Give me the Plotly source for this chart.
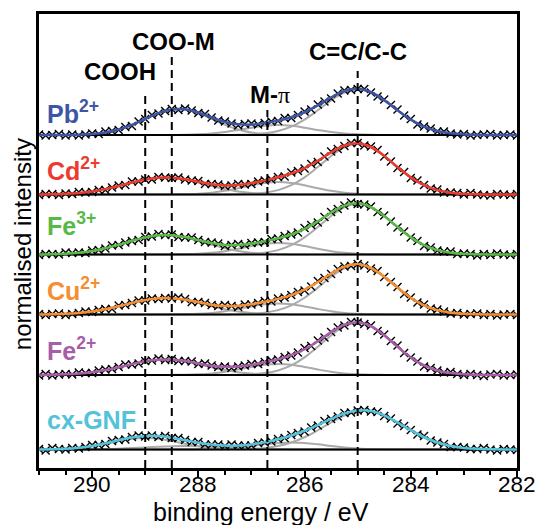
import plotly.graph_objects as go

# ---------------- data (binding energy grid in eV) ----------------
energy_coarse = [291.0, 290.75, 290.5, 290.25, 290.0, 289.75, 289.5, 289.25, 289.0, 288.75,
                 288.5, 288.25, 288.0, 287.75, 287.5, 287.25, 287.0, 286.75, 286.5, 286.25,
                 286.0, 285.75, 285.5, 285.25, 285.0, 284.75, 284.5, 284.25, 284.0, 283.75,
                 283.5, 283.25, 283.0, 282.75, 282.5, 282.25, 282.0]

energy_fine = [291.0, 290.875, 290.75, 290.625, 290.5, 290.375, 290.25, 290.125, 290.0, 289.875,
               289.75, 289.625, 289.5, 289.375, 289.25, 289.125, 289.0, 288.875, 288.75, 288.625,
               288.5, 288.375, 288.25, 288.125, 288.0, 287.875, 287.75, 287.625, 287.5, 287.375,
               287.25, 287.125, 287.0, 286.875, 286.75, 286.625, 286.5, 286.375, 286.25, 286.125,
               286.0, 285.875, 285.75, 285.625, 285.5, 285.375, 285.25, 285.125, 285.0, 284.875,
               284.75, 284.625, 284.5, 284.375, 284.25, 284.125, 284.0, 283.875, 283.75, 283.625,
               283.5, 283.375, 283.25, 283.125, 283.0, 282.875, 282.75, 282.625, 282.5, 282.375,
               282.25, 282.125, 282.0]

# measured points (normalised, above each spectrum's baseline)
measured_pb = [0.01, -0.01, 0.00, 0.02, -0.01, 0.01, -0.01, 0.01, 0.03, 0.02,
               0.07, 0.08, 0.10, 0.16, 0.18, 0.27, 0.32, 0.40, 0.43, 0.48,
               0.52, 0.50, 0.53, 0.49, 0.44, 0.42, 0.35, 0.29, 0.27, 0.23,
               0.19, 0.22, 0.23, 0.21, 0.24, 0.27, 0.28, 0.34, 0.34, 0.40,
               0.47, 0.51, 0.61, 0.67, 0.73, 0.83, 0.89, 0.90, 0.92, 0.92,
               0.85, 0.77, 0.71, 0.60, 0.51, 0.39, 0.32, 0.21, 0.17, 0.13,
               0.07, 0.07, 0.03, 0.01, 0.02, -0.01, 0.00, 0.01, 0.02, -0.01,
               0.00, 0.01, -0.01]
measured_cd = [-0.01, 0.01, 0.01, -0.01, 0.02, 0.01, 0.05, 0.04, 0.05, 0.09,
               0.09, 0.14, 0.18, 0.19, 0.26, 0.26, 0.30, 0.30, 0.35, 0.34,
               0.33, 0.34, 0.30, 0.28, 0.27, 0.21, 0.21, 0.20, 0.17, 0.18,
               0.21, 0.20, 0.21, 0.26, 0.28, 0.30, 0.35, 0.36, 0.44, 0.47,
               0.52, 0.61, 0.65, 0.76, 0.86, 0.91, 0.97, 1.03, 1.03, 0.98,
               0.96, 0.89, 0.76, 0.66, 0.53, 0.45, 0.33, 0.28, 0.19, 0.12,
               0.10, 0.04, 0.04, 0.03, 0.00, 0.03, 0.00, -0.01, -0.02, 0.01,
               0.00, -0.01, 0.01]
measured_fe3 = [-0.01, 0.01, 0.01, 0.00, 0.04, 0.03, 0.04, 0.03, 0.08, 0.09,
                0.12, 0.18, 0.19, 0.24, 0.27, 0.29, 0.35, 0.36, 0.41, 0.39,
                0.40, 0.35, 0.34, 0.34, 0.29, 0.25, 0.24, 0.22, 0.17, 0.19,
                0.21, 0.19, 0.23, 0.24, 0.25, 0.31, 0.32, 0.37, 0.40, 0.44,
                0.53, 0.59, 0.64, 0.75, 0.85, 0.91, 0.98, 1.04, 1.01, 1.00,
                0.96, 0.85, 0.78, 0.66, 0.54, 0.46, 0.34, 0.27, 0.17, 0.14,
                0.08, 0.06, 0.06, 0.01, 0.02, 0.01, -0.02, 0.01, -0.01, 0.02,
                0.00, -0.01, 0.01]
measured_cu = [0.01, -0.01, 0.01, 0.02, -0.01, 0.01, 0.03, 0.06, 0.05, 0.09,
               0.11, 0.11, 0.18, 0.19, 0.23, 0.28, 0.28, 0.32, 0.31, 0.33,
               0.32, 0.34, 0.31, 0.25, 0.25, 0.23, 0.19, 0.17, 0.19, 0.17,
               0.15, 0.20, 0.20, 0.23, 0.27, 0.26, 0.32, 0.34, 0.39, 0.45,
               0.48, 0.56, 0.67, 0.73, 0.81, 0.91, 0.96, 0.97, 1.01, 0.98,
               0.92, 0.87, 0.75, 0.65, 0.55, 0.41, 0.34, 0.24, 0.20, 0.12,
               0.10, 0.06, 0.02, 0.03, 0.00, 0.01, 0.02, -0.01, 0.01, -0.02,
               0.00, 0.01, -0.01]
measured_fe2 = [-0.01, 0.02, -0.01, 0.01, 0.02, 0.01, 0.05, 0.04, 0.04, 0.09,
                0.11, 0.12, 0.16, 0.21, 0.21, 0.23, 0.28, 0.29, 0.33, 0.30,
                0.32, 0.28, 0.28, 0.27, 0.22, 0.23, 0.19, 0.16, 0.17, 0.14,
                0.17, 0.19, 0.22, 0.22, 0.26, 0.29, 0.31, 0.36, 0.39, 0.45,
                0.54, 0.58, 0.69, 0.75, 0.86, 0.95, 0.99, 1.06, 1.05, 1.02,
                0.99, 0.88, 0.81, 0.68, 0.59, 0.44, 0.35, 0.27, 0.17, 0.14,
                0.09, 0.05, 0.06, 0.02, 0.00, 0.02, 0.00, -0.02, 0.01, 0.02,
                -0.01, 0.00, 0.01]
measured_cx = [0.01, -0.02, 0.03, 0.01, 0.00, 0.03, 0.02, 0.05, 0.09, 0.09,
               0.11, 0.17, 0.19, 0.20, 0.25, 0.28, 0.26, 0.28, 0.25, 0.27,
               0.23, 0.23, 0.19, 0.15, 0.15, 0.10, 0.10, 0.10, 0.07, 0.10,
               0.08, 0.08, 0.08, 0.13, 0.14, 0.16, 0.21, 0.23, 0.29, 0.33,
               0.36, 0.44, 0.48, 0.57, 0.61, 0.66, 0.73, 0.74, 0.78, 0.79,
               0.76, 0.75, 0.67, 0.62, 0.52, 0.47, 0.39, 0.30, 0.27, 0.18,
               0.14, 0.11, 0.05, 0.05, 0.04, 0.01, 0.01, 0.03, 0.00, -0.02,
               0.01, 0.00, -0.01]

# fitted envelopes (on energy_coarse)
fit_pb = [0.000, 0.001, 0.002, 0.007, 0.020, 0.050, 0.109, 0.202, 0.321, 0.437,
          0.511, 0.515, 0.450, 0.350, 0.261, 0.213, 0.209, 0.238, 0.287, 0.355,
          0.455, 0.594, 0.752, 0.879, 0.923, 0.855, 0.695, 0.494, 0.308, 0.168,
          0.080, 0.033, 0.012, 0.004, 0.001, 0.000, 0.000]
fit_cd = [0.002, 0.006, 0.014, 0.031, 0.062, 0.108, 0.170, 0.239, 0.299, 0.335,
          0.337, 0.305, 0.255, 0.206, 0.182, 0.191, 0.228, 0.282, 0.344, 0.419,
          0.527, 0.674, 0.843, 0.980, 1.026, 0.950, 0.772, 0.549, 0.342, 0.186,
          0.088, 0.037, 0.013, 0.004, 0.001, 0.000, 0.000]
fit_fe3 = [0.002, 0.007, 0.016, 0.036, 0.071, 0.124, 0.195, 0.274, 0.343, 0.385,
           0.387, 0.348, 0.288, 0.229, 0.192, 0.190, 0.218, 0.266, 0.325, 0.401,
           0.512, 0.664, 0.837, 0.978, 1.024, 0.949, 0.772, 0.549, 0.342, 0.186,
           0.088, 0.037, 0.013, 0.004, 0.001, 0.000, 0.000]
fit_cu = [0.002, 0.006, 0.014, 0.030, 0.060, 0.105, 0.165, 0.232, 0.291, 0.325,
          0.327, 0.296, 0.246, 0.197, 0.170, 0.174, 0.205, 0.254, 0.313, 0.388,
          0.498, 0.648, 0.819, 0.957, 1.004, 0.930, 0.757, 0.538, 0.335, 0.182,
          0.087, 0.036, 0.013, 0.004, 0.001, 0.000, 0.000]
fit_fe2 = [0.002, 0.005, 0.013, 0.028, 0.056, 0.099, 0.155, 0.218, 0.273, 0.306,
           0.308, 0.278, 0.232, 0.187, 0.164, 0.170, 0.204, 0.255, 0.316, 0.397,
           0.515, 0.675, 0.857, 1.004, 1.054, 0.977, 0.795, 0.565, 0.352, 0.191,
           0.091, 0.038, 0.014, 0.004, 0.001, 0.000, 0.000]
fit_cx = [0.002, 0.005, 0.014, 0.036, 0.071, 0.124, 0.186, 0.241, 0.272, 0.269,
          0.235, 0.186, 0.136, 0.099, 0.078, 0.079, 0.102, 0.144, 0.204, 0.281,
          0.375, 0.488, 0.611, 0.719, 0.779, 0.768, 0.681, 0.542, 0.385, 0.245,
          0.139, 0.070, 0.032, 0.013, 0.005, 0.002, 0.001]

# fitted components (on energy_coarse)
coo_pb = [0.000, 0.001, 0.002, 0.007, 0.020, 0.050, 0.109, 0.202, 0.321, 0.437,
          0.510, 0.510, 0.437, 0.321, 0.202, 0.109, 0.050, 0.020, 0.007, 0.002,
          0.000, 0.000, 0.000, 0.000, 0.000, 0.000, 0.000, 0.000, 0.000, 0.000,
          0.000, 0.000, 0.000, 0.000, 0.000, 0.000, 0.000]
mpi_pb = [0.000, 0.000, 0.000, 0.000, 0.000, 0.000, 0.000, 0.000, 0.000, 0.000,
          0.001, 0.005, 0.013, 0.029, 0.058, 0.100, 0.147, 0.185, 0.200, 0.185,
          0.147, 0.100, 0.058, 0.029, 0.013, 0.005, 0.001, 0.000, 0.000, 0.000,
          0.000, 0.000, 0.000, 0.000, 0.000, 0.000, 0.000]
cc_pb = [0.000, 0.000, 0.000, 0.000, 0.000, 0.000, 0.000, 0.000, 0.000, 0.000,
         0.000, 0.000, 0.000, 0.000, 0.001, 0.004, 0.012, 0.033, 0.080, 0.168,
         0.308, 0.494, 0.694, 0.850, 0.910, 0.850, 0.694, 0.494, 0.308, 0.168,
         0.080, 0.033, 0.012, 0.004, 0.001, 0.000, 0.000]

coo_cd = [0.002, 0.006, 0.014, 0.031, 0.062, 0.108, 0.170, 0.239, 0.299, 0.335,
          0.335, 0.299, 0.239, 0.170, 0.108, 0.062, 0.031, 0.014, 0.006, 0.002,
          0.001, 0.000, 0.000, 0.000, 0.000, 0.000, 0.000, 0.000, 0.000, 0.000,
          0.000, 0.000, 0.000, 0.000, 0.000, 0.000, 0.000]
mpi_cd = [0.000, 0.000, 0.000, 0.000, 0.000, 0.000, 0.000, 0.000, 0.000, 0.000,
          0.002, 0.006, 0.016, 0.036, 0.073, 0.125, 0.184, 0.231, 0.250, 0.231,
          0.184, 0.125, 0.073, 0.036, 0.016, 0.006, 0.002, 0.000, 0.000, 0.000,
          0.000, 0.000, 0.000, 0.000, 0.000, 0.000, 0.000]
cc_cd = [0.000, 0.000, 0.000, 0.000, 0.000, 0.000, 0.000, 0.000, 0.000, 0.000,
         0.000, 0.000, 0.000, 0.000, 0.001, 0.004, 0.013, 0.037, 0.088, 0.186,
         0.342, 0.549, 0.770, 0.944, 1.010, 0.944, 0.770, 0.549, 0.342, 0.186,
         0.088, 0.037, 0.013, 0.004, 0.001, 0.000, 0.000]

coo_fe3 = [0.002, 0.007, 0.016, 0.036, 0.071, 0.124, 0.195, 0.274, 0.343, 0.385,
           0.385, 0.343, 0.274, 0.195, 0.124, 0.071, 0.036, 0.016, 0.007, 0.002,
           0.001, 0.000, 0.000, 0.000, 0.000, 0.000, 0.000, 0.000, 0.000, 0.000,
           0.000, 0.000, 0.000, 0.000, 0.000, 0.000, 0.000]
mpi_fe3 = [0.000, 0.000, 0.000, 0.000, 0.000, 0.000, 0.000, 0.000, 0.000, 0.000,
           0.002, 0.005, 0.014, 0.034, 0.067, 0.115, 0.169, 0.213, 0.230, 0.213,
           0.169, 0.115, 0.067, 0.034, 0.014, 0.005, 0.002, 0.000, 0.000, 0.000,
           0.000, 0.000, 0.000, 0.000, 0.000, 0.000, 0.000]
cc_fe3 = [0.000, 0.000, 0.000, 0.000, 0.000, 0.000, 0.000, 0.000, 0.000, 0.000,
          0.000, 0.000, 0.000, 0.000, 0.001, 0.004, 0.013, 0.037, 0.088, 0.186,
          0.342, 0.549, 0.770, 0.944, 1.010, 0.944, 0.770, 0.549, 0.342, 0.186,
          0.088, 0.037, 0.013, 0.004, 0.001, 0.000, 0.000]

coo_cu = [0.002, 0.006, 0.014, 0.030, 0.060, 0.105, 0.165, 0.232, 0.291, 0.325,
          0.325, 0.291, 0.232, 0.165, 0.105, 0.060, 0.030, 0.014, 0.006, 0.002,
          0.001, 0.000, 0.000, 0.000, 0.000, 0.000, 0.000, 0.000, 0.000, 0.000,
          0.000, 0.000, 0.000, 0.000, 0.000, 0.000, 0.000]
mpi_cu = [0.000, 0.000, 0.000, 0.000, 0.000, 0.000, 0.000, 0.000, 0.000, 0.000,
          0.002, 0.005, 0.014, 0.032, 0.064, 0.110, 0.162, 0.204, 0.220, 0.204,
          0.162, 0.110, 0.064, 0.032, 0.014, 0.005, 0.002, 0.000, 0.000, 0.000,
          0.000, 0.000, 0.000, 0.000, 0.000, 0.000, 0.000]
cc_cu = [0.000, 0.000, 0.000, 0.000, 0.000, 0.000, 0.000, 0.000, 0.000, 0.000,
         0.000, 0.000, 0.000, 0.000, 0.001, 0.004, 0.013, 0.036, 0.087, 0.182,
         0.335, 0.538, 0.755, 0.925, 0.990, 0.925, 0.755, 0.538, 0.335, 0.182,
         0.087, 0.036, 0.013, 0.004, 0.001, 0.000, 0.000]

coo_fe2 = [0.002, 0.005, 0.013, 0.028, 0.056, 0.099, 0.155, 0.218, 0.273, 0.306,
           0.306, 0.273, 0.218, 0.155, 0.099, 0.056, 0.028, 0.013, 0.005, 0.002,
           0.001, 0.000, 0.000, 0.000, 0.000, 0.000, 0.000, 0.000, 0.000, 0.000,
           0.000, 0.000, 0.000, 0.000, 0.000, 0.000, 0.000]
mpi_fe2 = [0.000, 0.000, 0.000, 0.000, 0.000, 0.000, 0.000, 0.000, 0.000, 0.000,
           0.002, 0.005, 0.014, 0.032, 0.064, 0.110, 0.162, 0.204, 0.220, 0.204,
           0.162, 0.110, 0.064, 0.032, 0.014, 0.005, 0.002, 0.000, 0.000, 0.000,
           0.000, 0.000, 0.000, 0.000, 0.000, 0.000, 0.000]
cc_fe2 = [0.000, 0.000, 0.000, 0.000, 0.000, 0.000, 0.000, 0.000, 0.000, 0.000,
          0.000, 0.000, 0.000, 0.000, 0.001, 0.004, 0.014, 0.038, 0.091, 0.191,
          0.352, 0.565, 0.793, 0.972, 1.040, 0.972, 0.793, 0.565, 0.352, 0.191,
          0.091, 0.038, 0.014, 0.004, 0.001, 0.000, 0.000]

cooh_cx = [0.002, 0.005, 0.014, 0.034, 0.067, 0.115, 0.169, 0.213, 0.230, 0.213,
           0.169, 0.115, 0.067, 0.034, 0.014, 0.005, 0.002, 0.000, 0.000, 0.000,
           0.000, 0.000, 0.000, 0.000, 0.000, 0.000, 0.000, 0.000, 0.000, 0.000,
           0.000, 0.000, 0.000, 0.000, 0.000, 0.000, 0.000]
coo_cx = [0.000, 0.000, 0.000, 0.002, 0.004, 0.009, 0.017, 0.028, 0.042, 0.056,
          0.066, 0.070, 0.066, 0.056, 0.042, 0.028, 0.017, 0.009, 0.004, 0.002,
          0.000, 0.000, 0.000, 0.000, 0.000, 0.000, 0.000, 0.000, 0.000, 0.000,
          0.000, 0.000, 0.000, 0.000, 0.000, 0.000, 0.000]
mpi_cx = [0.000, 0.000, 0.000, 0.000, 0.000, 0.000, 0.000, 0.000, 0.000, 0.000,
          0.000, 0.001, 0.003, 0.009, 0.020, 0.041, 0.070, 0.103, 0.130, 0.140,
          0.130, 0.103, 0.070, 0.041, 0.020, 0.009, 0.003, 0.001, 0.000, 0.000,
          0.000, 0.000, 0.000, 0.000, 0.000, 0.000, 0.000]
cc_cx = [0.000, 0.000, 0.000, 0.000, 0.000, 0.000, 0.000, 0.000, 0.000, 0.000,
         0.000, 0.000, 0.000, 0.000, 0.002, 0.005, 0.013, 0.032, 0.070, 0.139,
         0.245, 0.385, 0.541, 0.678, 0.759, 0.759, 0.678, 0.541, 0.385, 0.245,
         0.139, 0.070, 0.032, 0.013, 0.005, 0.002, 0.001]

sample_labels = ["Pb<sup>2+</sup>", "Cd<sup>2+</sup>", "Fe<sup>3+</sup>",
                 "Cu<sup>2+</sup>", "Fe<sup>2+</sup>", "cx-GNF"]
peak_positions = [289.0, 288.5, 286.7, 285.0]
peak_labels = ["COOH", "COO-M",
               "M-<span style='font-family:Liberation Serif;font-weight:normal'>π</span>",
               "C=C/C-C"]
x_tick_values = [290, 288, 286, 284, 282]

# ---------------- styling / layout ----------------
colors = ["#3d55a5", "#ec3a2f", "#58b947", "#f68d2e", "#a85da8", "#52c3d8"]
offsets = [6.66, 5.47, 4.27, 3.07, 1.86, 0.37]
label_y = [6.76, 5.62, 4.52, 3.22, 2.02, 0.64]
peak_label_x = [289.47, 288.46, 286.65, 284.99]
peak_label_y = [7.62, 8.22, 7.16, 8.02]
dash_tops = [7.52, 8.26, 7.16, 7.94]

measured = [measured_pb, measured_cd, measured_fe3, measured_cu, measured_fe2, measured_cx]
fits = [fit_pb, fit_cd, fit_fe3, fit_cu, fit_fe2, fit_cx]
components = [[coo_pb, mpi_pb, cc_pb], [coo_cd, mpi_cd, cc_cd], [coo_fe3, mpi_fe3, cc_fe3],
              [coo_cu, mpi_cu, cc_cu], [coo_fe2, mpi_fe2, cc_fe2],
              [cooh_cx, coo_cx, mpi_cx, cc_cx]]

FONT = "Liberation Sans, Arial, Helvetica, sans-serif"
fig = go.Figure()

for k in range(len(sample_labels)):
    off = offsets[k]
    for comp in components[k]:
        fig.add_trace(go.Scatter(x=energy_coarse, y=[v + off for v in comp], mode="lines",
                                 line=dict(color="#aaaaaa", width=2, shape="spline"),
                                 hoverinfo="skip"))
    fig.add_trace(go.Scatter(x=[energy_fine[0], energy_fine[-1]], y=[off, off], mode="lines",
                             line=dict(color="black", width=2), hoverinfo="skip"))
    fig.add_trace(go.Scatter(x=energy_fine, y=[v + off for v in measured[k]], mode="markers",
                             marker=dict(symbol="x-thin", size=8,
                                         line=dict(width=1.4, color="black")),
                             hoverinfo="skip"))
    fig.add_trace(go.Scatter(x=energy_coarse, y=[v + off for v in fits[k]], mode="lines",
                             line=dict(color=colors[k], width=2.5, shape="spline"),
                             hoverinfo="skip"))
    fig.add_annotation(x=0.013, xref="paper", y=label_y[k], yref="y",
                       text="<b>" + sample_labels[k] + "</b>", showarrow=False,
                       xanchor="left", yanchor="bottom",
                       font=dict(family=FONT, size=25, color=colors[k]))

for i, pos in enumerate(peak_positions):
    fig.add_shape(type="line", xref="x", yref="y", x0=pos, x1=pos, y0=0, y1=dash_tops[i],
                  line=dict(color="black", width=2, dash="8px,5px"))
    fig.add_annotation(x=peak_label_x[i], y=peak_label_y[i], xref="x", yref="y",
                       text="<b>" + peak_labels[i] + "</b>", showarrow=False,
                       xanchor="center", yanchor="bottom",
                       font=dict(family=FONT, size=24, color="black"))

# x tick labels placed just below the axis
for tv in x_tick_values:
    fig.add_annotation(x=tv, xref="x", y=-0.0374, yref="paper", text=str(tv),
                       showarrow=False, xanchor="center", yanchor="middle",
                       font=dict(family=FONT, size=22.5, color="black"))

fig.add_annotation(x=-0.0356, y=0.493, xref="paper", yref="paper", text="normalised intensity",
                   textangle=-90, showarrow=False, xanchor="center", yanchor="middle",
                   font=dict(family=FONT, size=24, color="black"))
fig.add_annotation(x=0.464, y=-0.0962, xref="paper", yref="paper", text="binding energy / eV",
                   showarrow=False, xanchor="center", yanchor="middle",
                   font=dict(family=FONT, size=25, color="black"))

fig.update_layout(
    width=538, height=525,
    margin=dict(l=39, r=21, t=14, b=57),
    paper_bgcolor="white", plot_bgcolor="white",
    showlegend=False,
    xaxis=dict(range=[291, 282], tickvals=x_tick_values, showticklabels=False,
               ticks="outside", ticklen=7, tickwidth=2, tickcolor="black",
               minor=dict(dtick=0.5, tick0=282, ticks="outside", ticklen=4, tickwidth=2,
                          tickcolor="black"),
               showgrid=False, zeroline=False, showline=True, mirror=True,
               linewidth=2.5, linecolor="black"),
    yaxis=dict(range=[0, 9.08], showticklabels=False, ticks="", showgrid=False,
               zeroline=False, showline=True, mirror=True, linewidth=2.5,
               linecolor="black"),
)

fig.write_html("out.html", config={"displayModeBar": False},
               post_script="document.body.style.margin='0';")
